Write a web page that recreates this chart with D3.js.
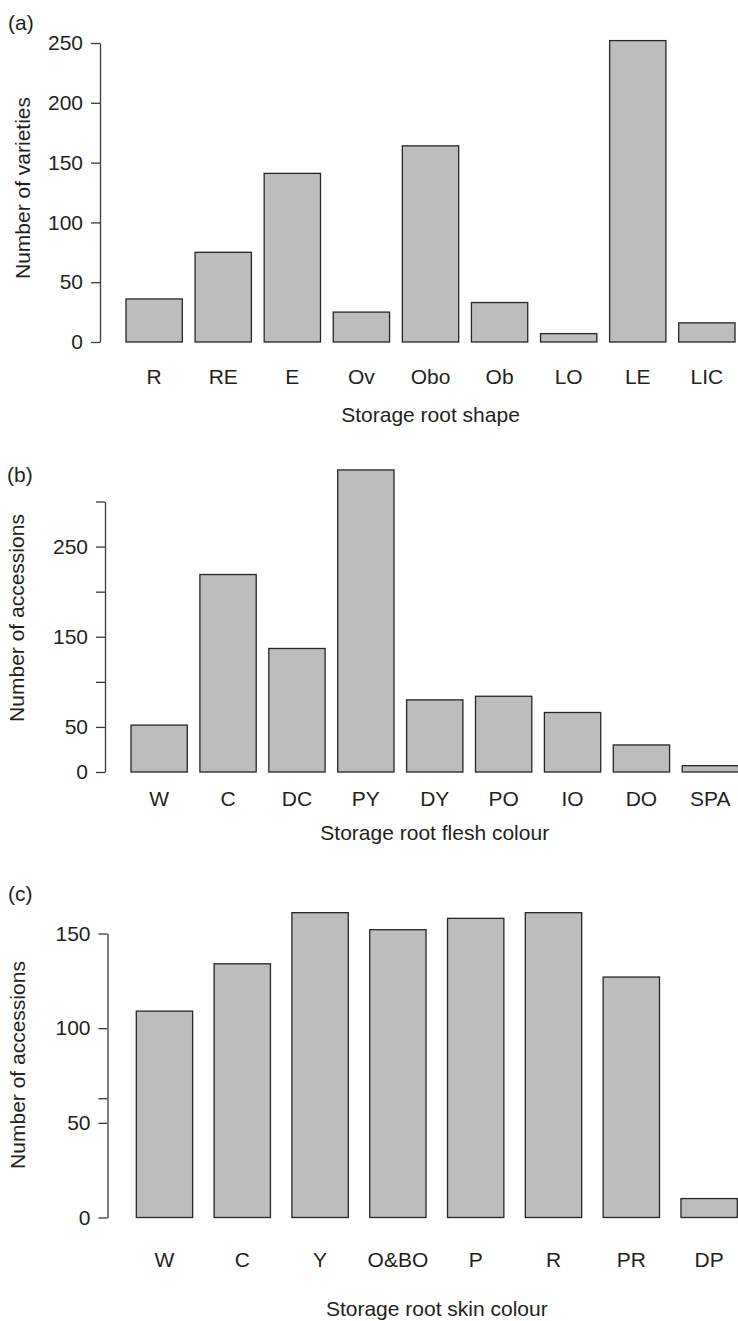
<!DOCTYPE html>
<html>
<head>
<meta charset="utf-8">
<script src="https://cdn.jsdelivr.net/npm/d3@7"></script>
<style>
  body { margin: 0; background: #fff; }
  svg text { font-family: "Liberation Sans", Arial, Helvetica, sans-serif; fill: #231f20; }
</style>
</head>
<body>
<svg id="chart" width="738" height="1321"></svg>
<script>
// Panel (a) storage root shape
const shapeCats = ["R", "RE", "E", "Ov", "Obo", "Ob", "LO", "LE", "LIC"];
const shapeCounts = [36, 75, 141, 25, 164, 33, 7, 252, 16];
const shapeTicks = [0, 50, 100, 150, 200, 250];
const shapeTickLabels = ["0", "50", "100", "150", "200", "250"];

// Panel (b) storage root flesh colour
const fleshCats = ["W", "C", "DC", "PY", "DY", "PO", "IO", "DO", "SPA"];
const fleshCounts = [52, 219, 137, 335, 80, 84, 66, 30, 7];
const fleshTicks = [0, 50, 100, 150, 200, 250, 300];
const fleshTickLabels = ["0", "50", "", "150", "", "250", ""];

// Panel (c) storage root skin colour
const skinCats = ["W", "C", "Y", "O&BO", "P", "R", "PR", "DP"];
const skinCounts = [109, 134, 161, 152, 158, 161, 127, 10];
const skinTicks = [0, 50, 63, 100, 150];
const skinTickLabels = ["0", "50", "", "100", "150"];

const svg = d3.select("#chart");
const fontSize = 21;

function drawPanel(p) {
    const g = svg.append("g");

    const x = d3.scaleBand()
        .domain(p.cats)
        .range(p.xRange)
        .paddingInner(p.padInner)
        .paddingOuter(0);

    const y = d3.scaleLinear()
        .domain([0, d3.max(p.ticks)])
        .range(p.yRange);

    // y axis
    const yAxis = d3.axisLeft(y)
        .tickValues(p.ticks)
        .tickFormat((d, i) => p.tickLabels[i])
        .tickSizeInner(9)
        .tickSizeOuter(0)
        .tickPadding(8);

    const ya = g.append("g")
        .attr("transform", `translate(${p.axisX},0)`)
        .call(yAxis);
    ya.select(".domain").attr("stroke", "#3a3a3a").attr("stroke-width", 1.3);
    ya.selectAll(".tick line").attr("stroke", "#3a3a3a").attr("stroke-width", 1.3);
    ya.selectAll(".tick text")
        .attr("font-size", fontSize)
        .attr("font-family", null)
        .attr("fill", "#231f20");

    // bars
    g.selectAll("rect.bar")
        .data(p.counts)
        .enter().append("rect")
        .attr("class", "bar")
        .attr("x", (d, i) => x(p.cats[i]))
        .attr("width", x.bandwidth())
        .attr("y", d => y(d))
        .attr("height", d => y(0) - y(d))
        .attr("fill", "#bcbdbf")
        .attr("stroke", "#262626")
        .attr("stroke-width", 1.3);

    // category labels
    g.selectAll("text.cat")
        .data(p.cats)
        .enter().append("text")
        .attr("class", "cat")
        .attr("x", d => x(d) + x.bandwidth() / 2)
        .attr("y", p.catY)
        .attr("text-anchor", "middle")
        .attr("font-size", fontSize)
        .text(d => d);

    // x title, centred on the bars
    g.append("text")
        .attr("x", (p.xRange[0] + p.xRange[1]) / 2)
        .attr("y", p.titleY)
        .attr("text-anchor", "middle")
        .attr("font-size", fontSize)
        .text(p.xTitle);

    // y title
    g.append("text")
        .attr("transform", `translate(${p.yTitleX},${p.yTitleY}) rotate(-90)`)
        .attr("text-anchor", "middle")
        .attr("dy", "0.35em")
        .attr("font-size", fontSize)
        .text(p.yTitle);

    // panel letter
    g.append("text")
        .attr("x", p.letterX)
        .attr("y", p.letterY)
        .attr("font-size", fontSize)
        .text(p.letter);
}

drawPanel({
    cats: shapeCats, counts: shapeCounts, ticks: shapeTicks, tickLabels: shapeTickLabels,
    xRange: [126, 735], padInner: 0.185, yRange: [342, 43], axisX: 100,
    catY: 384, titleY: 422, xTitle: "Storage root shape",
    yTitle: "Number of varieties", yTitleX: 23, yTitleY: 188,
    letter: "(a)", letterX: 8, letterY: 30
});

drawPanel({
    cats: fleshCats, counts: fleshCounts, ticks: fleshTicks, tickLabels: fleshTickLabels,
    xRange: [131, 738.5], padInner: 0.183, yRange: [772, 501.5], axisX: 105,
    catY: 806, titleY: 840, xTitle: "Storage root flesh colour",
    yTitle: "Number of accessions", yTitleX: 17, yTitleY: 618,
    letter: "(b)", letterX: 7, letterY: 482
});

drawPanel({
    cats: skinCats, counts: skinCounts, ticks: skinTicks, tickLabels: skinTickLabels,
    xRange: [136.3, 737.3], padInner: 0.276, yRange: [1217.5, 933.5], axisX: 107.5,
    catY: 1267, titleY: 1316, xTitle: "Storage root skin colour",
    yTitle: "Number of accessions", yTitleX: 18, yTitleY: 1065,
    letter: "(c)", letterX: 8, letterY: 901
});
</script>
</body>
</html>
